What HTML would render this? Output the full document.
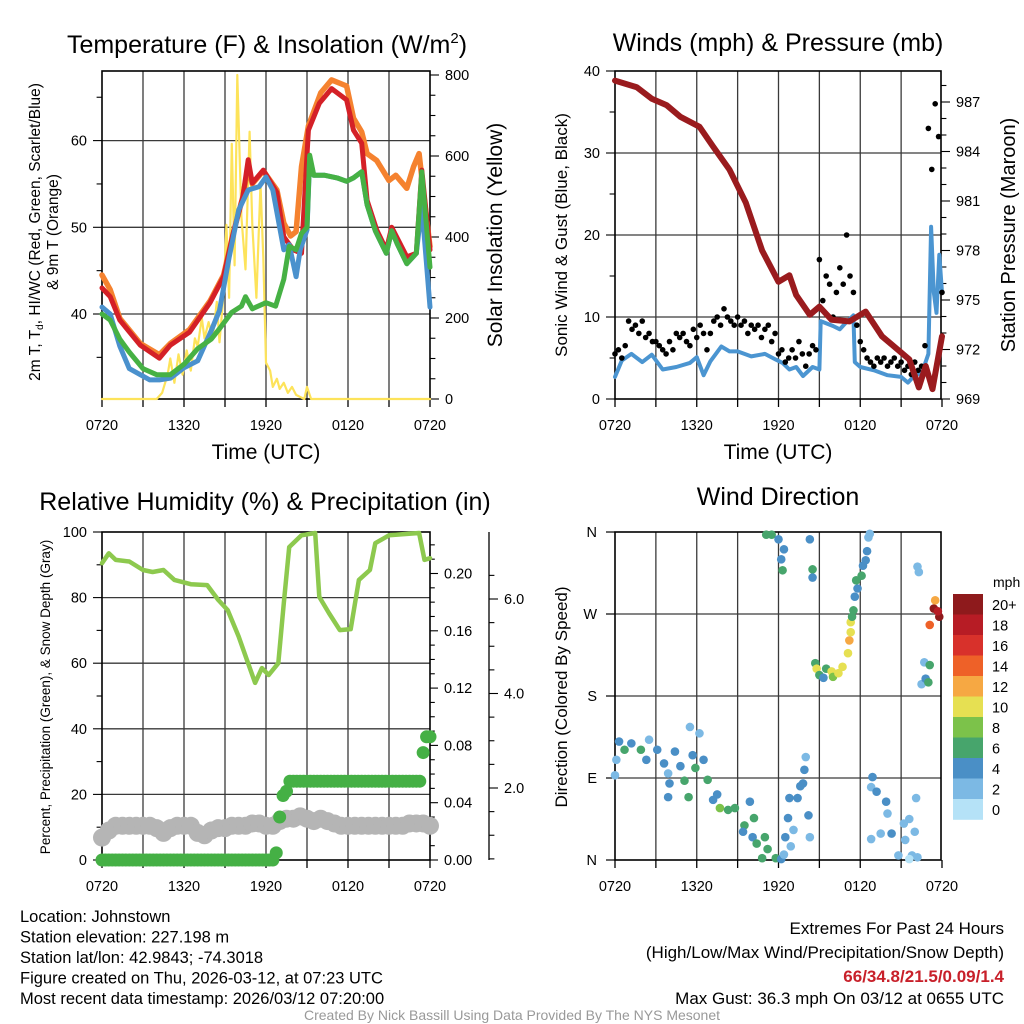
<!DOCTYPE html>
<html><head><meta charset="utf-8"><style>
html,body{margin:0;padding:0;background:#fff;}
svg{display:block;font-family:"Liberation Sans",Arial,sans-serif;}
</style></head><body>
<svg id="fig" width="1024" height="1024" viewBox="0 0 1024 1024" xmlns="http://www.w3.org/2000/svg">
<rect x="0" y="0" width="1024" height="1024" fill="#fff"/>
<text x="267" y="53" font-size="25" text-anchor="middle">Temperature (F) &amp; Insolation (W/m<tspan font-size="15" dy="-10">2</tspan><tspan dy="10">)</tspan></text>
<text x="778" y="51" font-size="25" text-anchor="middle">Winds (mph) &amp; Pressure (mb)</text>
<text x="265" y="510" font-size="25" text-anchor="middle">Relative Humidity (%) &amp; Precipitation (in)</text>
<text x="778" y="505" font-size="25" text-anchor="middle">Wind Direction</text>
<text x="266" y="459" font-size="21" text-anchor="middle">Time (UTC)</text>
<text x="778" y="459" font-size="21" text-anchor="middle">Time (UTC)</text>
<text transform="translate(40,232) rotate(-90)" font-size="15.5" text-anchor="middle">2m T, T<tspan font-size="10" dy="3">d</tspan><tspan dy="-3">, HI/WC (Red, Green, Scarlet/Blue)</tspan></text>
<text transform="translate(58,232) rotate(-90)" font-size="15.5" text-anchor="middle">&amp; 9m T (Orange)</text>
<text transform="translate(502,235) rotate(-90)" font-size="21" text-anchor="middle">Solar Insolation (Yellow)</text>
<text transform="translate(567,235) rotate(-90)" font-size="17" text-anchor="middle">Sonic Wind &amp; Gust (Blue, Black)</text>
<text transform="translate(1015,235) rotate(-90)" font-size="20" text-anchor="middle">Station Pressure (Maroon)</text>
<text transform="translate(50,697) rotate(-90)" font-size="13.5" text-anchor="middle">Percent, Precipitation (Green), &amp; Snow Depth (Gray)</text>
<text transform="translate(567,697) rotate(-90)" font-size="17" text-anchor="middle">Direction (Colored By Speed)</text>
<text x="993" y="587" font-size="14">mph</text>
<g font-size="16.5">
<text x="20" y="922">Location: Johnstown</text>
<text x="20" y="942.5">Station elevation: 227.198 m</text>
<text x="20" y="963">Station lat/lon: 42.9843; -74.3018</text>
<text x="20" y="983.5">Figure created on Thu, 2026-03-12, at 07:23 UTC</text>
<text x="20" y="1004">Most recent data timestamp: 2026/03/12 07:20:00</text>
</g>
<g font-size="17" text-anchor="end">
<text x="1004" y="934">Extremes For Past 24 Hours</text>
<text x="1004" y="958">(High/Low/Max Wind/Precipitation/Snow Depth)</text>
<text x="1004" y="982" fill="#c8202a" font-weight="bold">66/34.8/21.5/0.09/1.4</text>
<text x="1004" y="1004">Max Gust: 36.3 mph On 03/12 at 0655 UTC</text>
</g>
<text x="512" y="1020" font-size="14" fill="#999" text-anchor="middle">Created By Nick Bassill Using Data Provided By The NYS Mesonet</text>
</svg>
<script>
// ---------- data ----------
const xTickLabels = ["0720","1320","1920","0120","0720"];
const redT  = [0,0.6,1.3,2.8,4.2,5,6.4,7.9,8.9,9.6,10.3,10.7,11,11.8,12.8,13.3,14,14.6,15.1,15.9,16.8,17.9,18.4,19,19.4,20.1,20.8,21.2,22.3,23,23.4,24];
const redV  = [43,42,39.3,36.4,34.9,36.4,37.9,41.3,44.3,49.3,53.5,57.8,55.1,56.6,54,48.9,47.4,47,61.2,64.3,66,64.7,61.2,59.7,53.1,49.7,47.4,50,46.6,47,56.6,47.4];
const orgT  = [0,0.6,1.3,2.8,4.2,5,6.4,7.9,8.9,9.6,10.3,10.7,11,11.8,12.8,13.3,13.8,14.2,14.6,15.1,16,16.8,17.9,18.4,19,19.4,20.1,21,21.5,22.3,22.8,23.2,23.6,24];
const orgV  = [44.5,42.8,39.5,36.6,35.3,36.6,38.2,41.5,44.5,49.3,53.5,57,55,56.5,54.3,50.5,49,49.5,57,61.7,65.5,67,66.3,62.6,61,58.5,57.7,55.4,56,54.5,57,58.5,53,47.8];
const bluT  = [0,0.6,1.3,2,2.8,3.5,4.2,5,6,7,8,8.6,9.3,10,10.7,11.5,12,12.5,13.3,13.7,14.2,14.5,15,15.2,15.5,16.3,17.2,17.9,18.4,19,19.4,20,20.8,21.2,21.6,22.3,23,23.4,24];
const bluV  = [40.8,40,36.3,33.7,33,32.4,32.4,32.6,33.8,34.6,38.1,40.4,46.5,52,54.3,54.7,55.8,54.3,47.4,48,44.3,47.4,49.7,58,56,56,55.7,55.3,55.7,56.4,52.6,49.6,47,49.6,48.1,45.8,47,52.5,40.8];
const grnT  = [0,0.6,1.3,2,3,4,5,6,7,8,8.6,9.5,10.2,10.5,11,12,12.7,13.3,13.7,14.2,14.6,15,15.2,15.5,16.3,17.2,17.9,18.4,19,19.4,20,20.8,21.2,21.6,22.3,23,23.4,24];
const grnV  = [40,39.3,37.1,35.6,33.7,33,33,34.2,36,37.1,38.3,40.2,40.9,42,40.6,41.3,40.9,44,47.8,47.4,49.3,50,58.3,56,56,55.7,55.3,55.7,56.4,52.6,49.6,47,49.6,48.1,45.8,47,56.4,45.4];
const solT  = [0,4.0,4.4,4.8,5.0,5.3,5.6,5.9,6.2,6.5,6.8,7.0,7.3,7.5,7.8,8.1,8.4,8.6,8.9,9.1,9.3,9.5,9.7,9.9,10.2,10.5,10.8,11.0,11.3,11.6,11.8,12.0,12.3,12.5,12.8,13.0,13.3,13.6,13.9,14.2,14.5,14.8,15.0,15.3,24];
const solV  = [0,0,15,60,100,40,110,60,120,70,150,130,200,150,190,150,240,140,260,430,250,630,330,800,450,320,660,430,250,530,350,90,70,30,50,25,40,15,30,10,5,0,30,0,0];
const presT = [0,1.6,2.7,3.8,4.8,6.2,7.2,8.4,9.6,10.8,12,12.8,13.3,14.3,15,15.9,17.2,18.4,19.6,21.6,22.3,22.8,23.3,24];
const presV = [988.3,987.9,987.2,986.8,986.1,985.5,984.3,982.9,980.9,978,976.1,976.5,975.3,974.1,974.6,973.8,973.7,974.3,972.8,971.4,969.7,971,969.6,972.8];
const windT = [0,0.5,1.2,2,2.7,3.5,4.5,5.5,6,6.5,7,7.8,8.4,9,10,11,11.8,12.3,12.8,13.3,13.8,14.5,15,15.1,16,16.5,17,17.5,17.6,18,19,20,21,21.5,22,22.5,23,23.2,23.4,23.6,23.8,24];
const windV = [2.7,4.7,5.5,4.5,5.4,3.6,3.9,4.4,5.1,2.9,4.6,6.4,5.8,5.8,5.2,5.5,4.8,4.4,3.6,3.9,2.8,3.9,3.6,9.5,8.9,8.5,9.4,10.2,4.5,3.9,3.5,2.9,2.7,2,2.9,3.1,5.5,21,13,10.5,17.6,13];
const gustV = [5.5,6,5,6.5,9.5,8.5,9,8, 9.5,7.5,8,7,7,6.5,6,5.5, 7,6,8,7.5,8,7,6.5,8.5, 7.5,9,8,6,8,9.5,10,9,
               11,10,9.5,9,10,9,9.5,8, 9,8.5,9,7.5,8.5,9,7,8, 5.5,6,4.5,5,6,5,7,5.5, 4,5.5,6.5,6,17,12,15,14,
               10,13,16,14,20,15,13,9, 7,6,5,4.5,4,5,4.5,5, 4,4.5,5,4,4.5,3.5,4,3, 4.5,3.5,4,6.5,33,28,36,32, 13];
const rhT = [0,0.5,1,2,3,3.7,4.5,5.3,6.5,7.7,8.5,9.2,10,10.6,11.2,11.7,12.2,12.9,13.3,13.7,14.6,15.6,15.9,16.6,17.4,18.2,18.8,19.6,20,21,23.2,23.6,24];
const rhV = [90.5,93.5,91.5,91,88.4,87.8,88.4,85.4,84.1,83.8,79.3,76.2,68.1,61,54,58.5,56.4,60,78.3,95.4,99,99.7,80.2,75.3,70.1,70.4,85.4,88.4,96.6,99,99.7,91.5,92];
const precipV = [0,0,0,0,0,0,0,0,0,0,0,0,0,0,0,0,0,0,0,0,0,0,0,0,0,0,0,0,0,0,0,0,0,0,0,0,0,0,0,0,0,0,0,0,0,0,0,0,0,0,0,
                 0.005,0.03,0.045,0.048,0.055,0.055,0.055,0.055,0.055,0.055,0.055,0.055,0.055,0.055,0.055,0.055,0.055,0.055,0.055,0.055,
                 0.055,0.055,0.055,0.055,0.055,0.055,0.055,0.055,0.055,0.055,0.055,0.055,0.055,0.055,0.055,0.055,0.055,0.055,0.055,0.055,
                 0.055,0.055,0.055,0.075,0.086,0.086];
const snowV = [0.95,1.1,1.2,1.2,1.2,1.2,1.2,1.2,1.15,1.05,1.15,1.2,1.2,1.2,1.05,1.0,1.1,1.15,1.15,1.2,1.2,1.2,1.25,1.25,1.2,1.2,1.3,1.35,1.35,1.4,1.35,1.3,1.35,1.3,1.25,1.2,1.2,1.2,1.2,1.2,1.2,1.2,1.2,1.2,1.2,1.25,1.25,1.25,1.2];
const dirT = [0,0.1,0.3,0.7,1.2,1.9,2.5,2.3,3.1,3.6,3.9,3.9,4,4.4,4.8,5.1,5.4,5.5,5.7,5.9,6.2,6.5,6.8,7.2,7.5,7.7,8.3,8.8,9.5,9.4,9.9,10.2,10.1,10.4,11.0,10.8,11.2,11.8,12.2,11.1,11.5,12,12.4,12.2,12.3,12.4,12.5,12.9,13.1,12.8,12.7,13.4,13.6,13.8,13.9,14.0,14.2,14.3,14.3,14.5,14.5,
  14.7,14.8,15,15.3,15.5,15.9,16,16.4,16.7,17.1,17.2,17.3,17.3,17.4,17.5,17.6,17.8,17.7,18.1,18.2,18.4,18.5,18.6,18.7,
  18.9,18.8,19.2,19.9,20,19.5,20.3,18.8,20.8,21.2,21.6,22,21.3,22.1,21.8,22.2,21.6,22.2,22.3,22.7,22.5,22.8,23,23.1,23.4,23.5,23.1,23.8,23.7];
const dirV = [93,110,130,121,128,121,132,110,121,106,95,69,84,119,103,87,69,146,115,101,139,110,88,66,72,57,55,57,38,31,64,46,25,18,25,2,12,2,1,357,357,352,341,330,318,6,25,15,33,68,46,68,81,84,99,113,49,25,352,319,310,
  216,210,203,200,210,207,201,205,212,227,241,250,261,267,274,289,298,307,312,323,329,339,354,358,
  91,80,75,64,51,29,29,23,5,40,45,31,22,68,5,3,1,322,316,217,193,199,195,214,276,285,258,267,273];
const dirS = [3,2,4,6,4,6,3,4,4,4,2,4,4,4,4,6,6,2,4,6,2,4,6,4,4,8,6,6,6,4,4,6,4,6,6,6,6,6,4,6,6,4,4,4,6,2,4,2,2,4,4,4,4,4,4,2,4,2,4,6,4,
  6,10,6,4,6,10,8,10,10,10,12,10,10,6,6,4,4,6,6,4,4,4,2,2,
  4,2,4,4,2,2,4,2,2,2,2,2,2,2,2,2,0,2,2,2,2,4,6,6,20,12,14,20,18];
const cbarLabels = ["20+","18","16","14","12","10","8","6","4","2","0"];
const cbarColors = ["#8e1a1c","#b71c25","#d8312b","#ee6128","#f6a843","#e6e052","#7cc24a","#47a56c","#4a8fc6","#7cb9e4","#b5e2f7"];

// ---------- helpers ----------
const NS = "http://www.w3.org/2000/svg";
const svg = document.getElementById("fig");
function mk(tag, attrs, parent) {
  const el = document.createElementNS(NS, tag);
  for (const k in attrs) el.setAttribute(k, attrs[k]);
  (parent || svg).appendChild(el);
  return el;
}
function txt(x, y, s, size, anchor, parent) {
  const el = mk("text", {x: x, y: y, "font-size": size, "text-anchor": anchor}, parent);
  el.textContent = s;
  return el;
}
const x1 = t => 102 + t * 328 / 24;
const yT = v => 314 - (v - 40) * 8.67;
const yI = v => 399 - v * 0.405;
const x2 = t => 615 + t * 327 / 24;
const yW = v => 399 - v * 8.2;
const yP = v => 399 - (v - 969) * 16.5;
const yRH = v => 860 - v * 3.28;
const yPr = v => 860 - v * 1432.5;
const ySn = v => 882.5 - v * 47.25;
const yD = v => 860 - v * 0.9111;

function frame(name, xa, ya, xb, yb, xs, hGrid) {
  const g = mk("g", {});
  
  
  for (let h = 3; h < 24; h += 3) {
    const ln = mk("line", {x1: xs(h), x2: xs(h), y1: ya, y2: yb, stroke: "#3a3a3a", "stroke-width": 1.3}, g);
    
    
  }
  hGrid.forEach(y => {
    const ln = mk("line", {x1: xa, x2: xb, y1: y, y2: y, stroke: "#3a3a3a", "stroke-width": 1.3}, g);
    
    
  });
  const r = mk("rect", {x: xa, y: ya, width: xb - xa, height: yb - ya, fill: "none", stroke: "#000", "stroke-width": 1.6}, g);
  
  
  for (let h = 0; h <= 24; h += 3) {
    const tk = mk("line", {x1: xs(h), x2: xs(h), y1: yb, y2: yb + 8, stroke: "#000", "stroke-width": 1.3}, g);
    
    
  }
  xTickLabels.forEach((s, i) => {
    const t = txt(xs(i * 6), yb + 31, s, 14.5, "middle", g);
    
    
  });
  return g;
}
function yAxis(name, x, vals, ys, dir, len, labelFn, fmt) {
  const g = mk("g", {});
  
  
  vals.forEach(v => {
    const y = ys(v);
    const major = labelFn(v);
    const tk = mk("line", {x1: x, x2: x + dir * (major ? len : len * 0.6), y1: y, y2: y, stroke: "#000", "stroke-width": 1.1}, g);
    
    
    if (major) {
      const t = txt(x + dir * (len + 6), y + 5, fmt(v), 14.5, dir < 0 ? "end" : "start", g);
      
      
    }
  });
}
function line(name, ts, vs, xs, ys, color, w, parent) {
  const pts = ts.map((t, i) => xs(t).toFixed(1) + "," + ys(vs[i]).toFixed(1)).join(" ");
  const p = mk("polyline", {points: pts, fill: "none", stroke: color, "stroke-width": w, "stroke-linejoin": "round", "stroke-linecap": "round"}, parent);
  
  
  return p;
}
const range = (a, b, s) => { const r = []; for (let v = a; v <= b + 1e-9; v += s) r.push(+v.toFixed(4)); return r; };

// ---------- panel 1 ----------
frame("temperature-panel", 102, 71, 430, 399, x1, [yT(40), yT(50), yT(60)]);
yAxis("temperature-y-axis", 102, range(35, 65, 5), yT, -1, 9, v => v % 10 === 0, v => String(v));
yAxis("insolation-y-axis", 430, range(0, 800, 50), yI, 1, 9, v => v % 200 === 0, v => String(v));
line("insolation-line", solT, solV, x1, yI, "#fde35a", 2.2);
line("orange-9m-temp-line", orgT, orgV, x1, yT, "#f5822f", 5.5);
line("red-2m-temp-line", redT, redV, x1, yT, "#d42027", 5);
line("blue-hi-wc-line", bluT, bluV, x1, yT, "#4a91cd", 5);
line("green-dewpoint-line", grnT, grnV, x1, yT, "#46b144", 5);

// ---------- panel 2 ----------
frame("winds-panel", 615, 71, 941, 399, x2, [yW(10), yW(20), yW(30)]);
yAxis("wind-y-axis", 615, range(0, 40, 5), yW, -1, 9, v => v % 10 === 0, v => String(v));
yAxis("pressure-y-axis", 941, range(969, 988, 1), yP, 1, 9, v => (v - 969) % 3 === 0, v => String(v));
line("sonic-wind-line", windT, windV, x2, yW, "#4b95d1", 4);
gustV.forEach((v, i) => {
  const c = mk("circle", {cx: x2(i * 24 / (gustV.length - 1)), cy: yW(v), r: 2.8, fill: "#000"});
  
  
});
line("pressure-line", presT, presV, x2, yP, "#9a1b1e", 6);

// ---------- panel 3 ----------
frame("humidity-panel", 102, 532, 430, 860, x1, [yRH(20), yRH(40), yRH(60), yRH(80)]);
yAxis("percent-y-axis", 102, range(0, 100, 10), yRH, -1, 9, v => v % 20 === 0, v => String(v));
yAxis("precip-y-axis", 430, range(0, 0.22, 0.01), yPr, 1, 8, v => Math.round(v * 100) % 4 === 0, v => v.toFixed(2));
const ax3 = mk("line", {x1: 489, x2: 489, y1: 532, y2: 860, stroke: "#000", "stroke-width": 1.3});


yAxis("snow-depth-y-axis", 489, range(0.5, 6.5, 0.5), ySn, 1, 9, v => v % 2 === 0, v => v.toFixed(1));
snowV.forEach((v, i) => {
  const c = mk("circle", {cx: x1(i * 24 / (snowV.length - 1)), cy: ySn(v), r: 9, fill: "#b5b5b5"});
  
  
});
line("relative-humidity-line", rhT, rhV, x1, yRH, "#8dc94e", 4.5);
precipV.forEach((v, i) => {
  const c = mk("circle", {cx: x1(i * 24 / (precipV.length - 1)), cy: yPr(v), r: 6.5, fill: "#45b045"});
  
  
});

// ---------- panel 4 ----------
frame("wind-direction-panel", 615, 532, 941, 860, x2, [yD(90), yD(180), yD(270)]);
const dirLabels = ["N", "E", "S", "W", "N"];
dirLabels.forEach((s, i) => {
  const tk = mk("line", {x1: 606, x2: 615, y1: yD(i * 90), y2: yD(i * 90), stroke: "#000", "stroke-width": 1.2});
  
  
  const t = txt(597, yD(i * 90) + 5, s, 14.5, "end");
  
  
});
dirT.forEach((t, i) => {
  const bin = Math.min(10, Math.floor(dirS[i] / 2));
  const c = mk("circle", {cx: x2(t), cy: yD(dirV[i]), r: 4.3, fill: cbarColors[10 - bin]});
  
  
});
cbarColors.forEach((col, i) => {
  const r = mk("rect", {x: 953, y: 594 + i * 20.5, width: 30, height: 20.8, fill: col});
  
  
  const t = txt(992, 594 + i * 20.5 + 16, cbarLabels[i], 14.5, "start");
  
  
});
</script>
</body></html>
